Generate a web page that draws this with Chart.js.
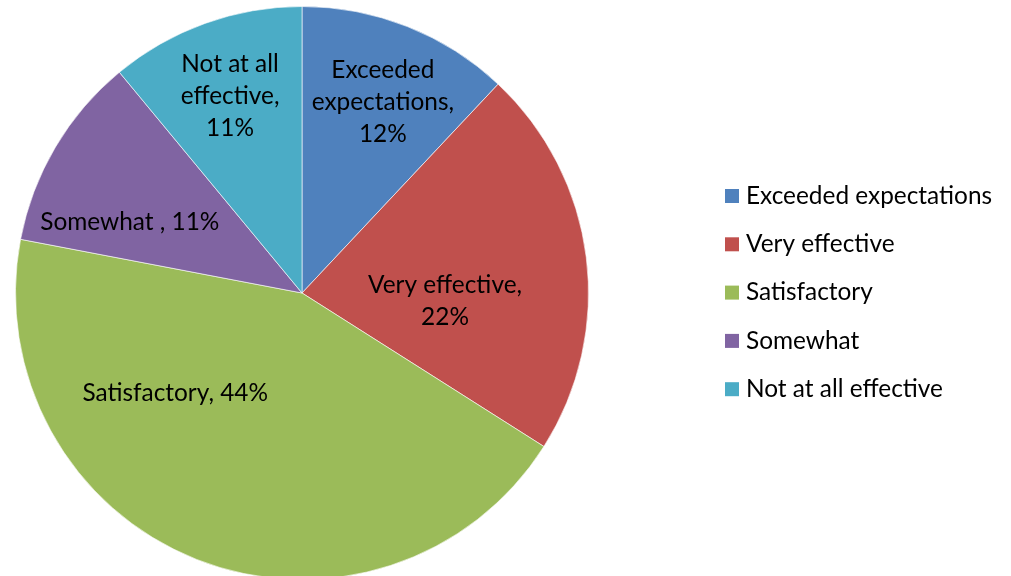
<!DOCTYPE html>
<html>
<head>
<meta charset="utf-8">
<script src="https://cdn.jsdelivr.net/npm/chart.js@4/dist/chart.umd.min.js"></script>
<style>
  html, body { margin: 0; padding: 0; background: #fff; overflow: hidden; }
  #wrap { position: relative; width: 1011px; height: 580px; }
</style>
</head>
<body>
<div id="wrap"><canvas id="pieChart"></canvas></div>
<script>
// Survey responses on effectiveness
const categories = ['Exceeded expectations', 'Very effective', 'Satisfactory', 'Somewhat ', 'Not at all effective'];
const values = [12, 22, 44, 11, 11];
const sliceColors = ['#4F81BD', '#C0504D', '#9BBB59', '#8064A2', '#4BACC6'];

// words per line for each slice label
const labelWrap = [[1, 1, 1], [2, 1], [2], [3], [3, 1, 1]];
// label placement: angle (deg, clockwise from 12 o'clock) and fraction of radius
const labelPlace = [
  { angle: 22.9, r: 0.725 },
  { angle: 93.2, r: 0.50 },
  { angle: 231.8, r: 0.563 },
  { angle: 292.4, r: 0.65 },
  { angle: 339.9, r: 0.731 }
];

const FONT = '24.4px Lato, "Liberation Sans", sans-serif';

// Draws "Category, NN%" inside each slice
const sliceLabels = {
  id: 'sliceLabels',
  afterDatasetsDraw(chart) {
    const { ctx } = chart;
    const meta = chart.getDatasetMeta(0);
    ctx.save();
    ctx.font = FONT;
    ctx.fillStyle = '#000';
    ctx.textAlign = 'center';
    ctx.textBaseline = 'middle';
    meta.data.forEach((arc, i) => {
      const words = `${categories[i]}, ${values[i]}%`.split(' ');
      const lines = [];
      let k = 0;
      labelWrap[i].forEach(n => {
        lines.push(words.slice(k, k + n).join(' '));
        k += n;
      });
      const p = labelPlace[i];
      const a = p.angle * Math.PI / 180;
      const cx = arc.x + Math.sin(a) * arc.outerRadius * p.r;
      const cy = arc.y - Math.cos(a) * arc.outerRadius * p.r;
      const lh = 32;
      const y0 = cy - (lines.length - 1) * lh / 2;
      lines.forEach((ln, j) => ctx.fillText(ln, cx, y0 + j * lh));
    });
    ctx.restore();
  }
};

// Legend on the right, one row per category
const sideLegend = {
  id: 'sideLegend',
  afterDraw(chart) {
    const { ctx } = chart;
    const x = 725, y = 196, step = 48.3, box = 14;
    ctx.save();
    ctx.font = FONT;
    ctx.textBaseline = 'middle';
    ctx.textAlign = 'left';
    chart.data.labels.forEach((label, i) => {
      const ry = y + i * step;
      ctx.fillStyle = sliceColors[i];
      ctx.fillRect(x, ry - box / 2, box, box);
      ctx.fillStyle = '#000';
      ctx.fillText(label.trim(), x + 21, ry);
    });
    ctx.restore();
  }
};

new Chart(document.getElementById('pieChart'), {
  type: 'pie',
  data: {
    labels: categories,
    datasets: [{
      data: values,
      backgroundColor: sliceColors,
      borderColor: 'rgba(255,255,255,0.6)',
      borderWidth: 1
    }]
  },
  options: {
    responsive: true,
    maintainAspectRatio: false,
    animation: false,
    layout: {
      padding: { left: 15, right: 422, top: 6, bottom: 0 }
    },
    plugins: {
      legend: { display: false },
      tooltip: { enabled: false }
    }
  },
  plugins: [sliceLabels, sideLegend]
});
</script>
</body>
</html>
